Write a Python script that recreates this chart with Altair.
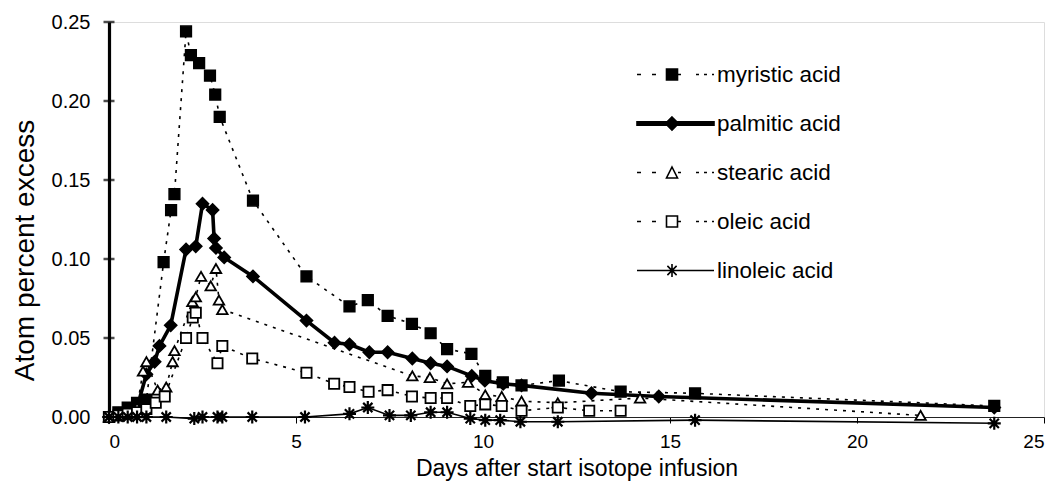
import altair as alt
import pandas as pd

SERIES = ["myristic acid", "palmitic acid", "stearic acid", "oleic acid", "linoleic acid"]

MYR_X = [0, 0.25, 0.5, 0.75, 1.0, 1.46, 1.66, 1.75, 2.06, 2.19, 2.41, 2.70, 2.84, 2.96, 3.85,
         5.28, 6.43, 6.92, 7.45, 8.10, 8.60, 9.04, 9.69, 10.06, 10.53, 11.03, 12.03, 13.68, 15.67, 23.67]
MYR_Y = [0.000, 0.003, 0.006, 0.009, 0.011, 0.098, 0.131, 0.141, 0.244, 0.229, 0.224, 0.216, 0.204, 0.190, 0.137,
         0.089, 0.070, 0.074, 0.064, 0.059, 0.053, 0.043, 0.040, 0.026, 0.022, 0.020, 0.023, 0.016, 0.015, 0.007]

PAL_X = [0, 0.25, 0.5, 0.75, 1.0, 1.22, 1.35, 1.65, 2.06, 2.32, 2.50, 2.77, 2.81, 2.86, 3.08, 3.85,
         5.28, 6.03, 6.43, 6.96, 7.45, 8.11, 8.60, 9.04, 9.70, 10.05, 10.54, 11.03, 12.90, 14.70, 23.67]
PAL_Y = [0.000, 0.002, 0.003, 0.006, 0.027, 0.035, 0.045, 0.058, 0.106, 0.108, 0.135, 0.131, 0.113, 0.107, 0.101, 0.089,
         0.061, 0.047, 0.046, 0.041, 0.041, 0.037, 0.034, 0.032, 0.026, 0.023, 0.021, 0.020, 0.015, 0.013, 0.006]

STE_X = [0, 0.25, 0.5, 0.75, 0.91, 1.0, 1.30, 1.53, 1.70, 1.75, 2.23, 2.32, 2.46, 2.72, 2.86, 2.94, 3.03,
         8.11, 8.58, 9.04, 9.60, 10.06, 10.50, 11.03, 12.00, 14.20, 21.70]
STE_Y = [0.000, 0.001, 0.003, 0.006, 0.029, 0.035, 0.017, 0.019, 0.035, 0.042, 0.073, 0.076, 0.089, 0.083, 0.094, 0.074, 0.068,
         0.026, 0.025, 0.021, 0.022, 0.014, 0.013, 0.010, 0.009, 0.012, 0.001]

OLE_X = [0, 0.25, 0.5, 0.75, 1.0, 1.25, 1.49, 2.06, 2.24, 2.32, 2.50, 2.90, 3.03, 3.83,
         5.28, 6.02, 6.43, 6.94, 7.45, 8.10, 8.60, 9.04, 9.66, 10.06, 10.50, 11.03, 12.00, 12.84, 13.68]
OLE_Y = [0.000, 0.001, 0.002, 0.003, 0.005, 0.009, 0.013, 0.050, 0.063, 0.066, 0.050, 0.034, 0.045, 0.037,
         0.028, 0.021, 0.019, 0.016, 0.017, 0.013, 0.012, 0.012, 0.007, 0.008, 0.007, 0.004, 0.006, 0.004, 0.004]

LIN_X = [0, 0.25, 0.5, 0.75, 1.0, 1.53, 2.28, 2.50, 2.90, 3.03, 3.83, 5.24, 6.43, 6.92, 7.50, 8.07,
         8.60, 9.04, 9.66, 10.06, 10.46, 11.00, 12.00, 15.67, 23.67]
LIN_Y = [0.000, 0.000, 0.000, 0.000, 0.000, 0.000, -0.001, 0.000, 0.000, 0.000, 0.000, 0.000, 0.002, 0.006, 0.001, 0.001,
         0.003, 0.003, -0.001, -0.002, -0.002, -0.003, -0.003, -0.002, -0.004]

X_TICKS = [0, 5, 10, 15, 20, 25]
Y_TICKS = [0.00, 0.05, 0.10, 0.15, 0.20, 0.25]

rows = []
for name, xs, ys in zip(SERIES, [MYR_X, PAL_X, STE_X, OLE_X, LIN_X], [MYR_Y, PAL_Y, STE_Y, OLE_Y, LIN_Y]):
    for xv, yv in zip(xs, ys):
        rows.append({"series": name, "day": xv, "ape": yv})
df = pd.DataFrame(rows)
ticks_df = pd.DataFrame({"ape": Y_TICKS})

FONT = "Liberation Sans"

x_enc = alt.X("day:Q", scale=alt.Scale(domain=[0, 25], nice=False),
              axis=alt.Axis(values=X_TICKS, title="Days after start isotope infusion", grid=False,
                            labelFontSize=19, labelPadding=9, tickSize=6, tickColor="black", tickWidth=1,
                            domainColor="#222", domainWidth=1.2, labelColor="black",
                            titleFontSize=23, titleFontWeight="normal", titleColor="black",
                            titleBaseline="alphabetic", titleY=58))
y_enc = alt.Y("ape:Q", scale=alt.Scale(domain=[0, 0.25], nice=False, zero=False),
              axis=alt.Axis(values=Y_TICKS, format=".2f", title="Atom percent excess", grid=False,
                            ticks=False, labelFontSize=20, labelPadding=19, labelColor="black",
                            domainColor="black", domainWidth=3.2,
                            titleFontSize=28, titleFontWeight="normal", titleColor="black",
                            titleBaseline="middle", titleAlign="center", titleAngle=-90,
                            titleX=-84, titleY=228))

STAR = "M-1,0L1,0M0,-1L0,1M-0.71,-0.71L0.71,0.71M-0.71,0.71L0.71,-0.71"

DASHES = [[3, 6], None, [3, 6], [3, 6], None]
WIDTHS = [1.6, 3.6, 1.6, 1.6, 1.6]
SHAPES = ["square", "diamond", "triangle-up", "square", STAR]
FILLS = ["black", "black", "white", "white", "transparent"]
SIZES = [115, 150, 110, 105, 170]
PSTROKE = [1.5, 1.5, 1.8, 1.8, 2.2]

line_layers = []
point_layers = []
for i, name in enumerate(SERIES):
    base = alt.Chart(df).transform_filter(alt.datum.series == name)
    lkw = dict(color="black", strokeWidth=WIDTHS[i])
    if DASHES[i] is not None:
        lkw["strokeDash"] = DASHES[i]
    line_layers.append(base.mark_line(**lkw).encode(x=x_enc, y=y_enc))
    point_layers.append(base.mark_point(shape=SHAPES[i], fill=FILLS[i], stroke="black",
                                        filled=False, opacity=1, size=SIZES[i],
                                        strokeWidth=PSTROKE[i]).encode(x=x_enc, y=y_enc))

yticks = alt.Chart(ticks_df).mark_tick(color="black", size=11, thickness=2.5, orient="horizontal").encode(
    y=y_enc, x=alt.value(0))

# ---- legend symbols (line segment + marker), drawn by the legend itself ----
U = 39.0


def p(v):
    return f"{v / U:.4f}"


DASH_SEGS = [(-35, -31), (-20, -16), (6, 9), (24, 27), (32, 35), (40, 42)]


def dashes():
    return "".join(f"M{p(a)},0L{p(b)},0" for a, b in DASH_SEGS)


def square(h=5.5):
    return f"M{p(-h)},{p(-h)}L{p(h)},{p(-h)}L{p(h)},{p(h)}L{p(-h)},{p(h)}Z"


def diamond(h=6.5):
    return f"M0,{p(-h)}L{p(h)},0L0,{p(h)}L{p(-h)},0Z"


def triangle(h=5.5):
    return f"M0,{p(-h)}L{p(h)},{p(h)}L{p(-h)},{p(h)}Z"


def star(h=6.5):
    d = h * 0.71
    return (f"M{p(-h)},0L{p(h)},0M0,{p(-h)}L0,{p(h)}"
            f"M{p(-d)},{p(-d)}L{p(d)},{p(d)}M{p(-d)},{p(d)}L{p(d)},{p(-d)}")


thick = f"M{p(-35)},{p(-1.8)}L{p(42)},{p(-1.8)}L{p(42)},{p(1.8)}L{p(-35)},{p(1.8)}Z"
thin = f"M{p(-35)},0L{p(42)},0"

LEG_PATHS = [dashes() + square(), thick + diamond(), dashes() + triangle(),
             dashes() + square(), thin + star()]

leg = alt.Legend(title=None, orient="none", legendX=523, legendY=40, symbolSize=U * U * 4,
                 labelFontSize=22.5, labelFont=FONT, labelColor="black", labelOffset=5,
                 clipHeight=25, rowPadding=24, symbolStrokeWidth=1.6, symbolStrokeColor="black",
                 symbolOpacity=1, labelLimit=300)

legend_layer = alt.Chart(df).transform_filter("false").mark_point(
    color="black", filled=False, opacity=1, strokeWidth=1.6).encode(
    shape=alt.Shape("series:N", scale=alt.Scale(domain=SERIES, range=LEG_PATHS), legend=leg),
    fill=alt.Fill("series:N", scale=alt.Scale(domain=SERIES, range=FILLS), legend=leg),
    stroke=alt.Stroke("series:N", scale=alt.Scale(domain=SERIES, range=["black"] * 5), legend=leg),
)

chart = alt.layer(*line_layers, *point_layers, yticks, legend_layer).properties(
    width=935, height=395,
    autosize=alt.AutoSizeParams(type="none"),
    padding={"left": 101, "top": 14, "right": 11, "bottom": 64},
    background="white",
).configure_view(stroke=None).configure(font=FONT)

chart.save("out.html", embed_options={"renderer": "svg", "actions": False})
